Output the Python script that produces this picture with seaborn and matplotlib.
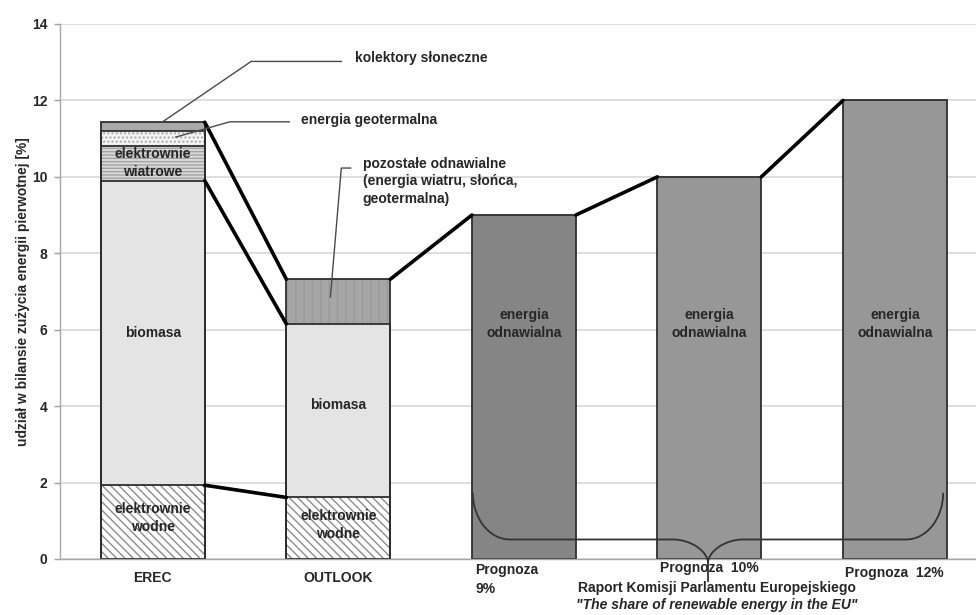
import matplotlib
matplotlib.use("Agg")
import matplotlib.pyplot as plt
import numpy as np
import pandas as pd
import seaborn as sns
from matplotlib.path import Path
from matplotlib.patches import PathPatch

# ---------------------------------------------------------------- data
categories = ["EREC", "OUTLOOK", "Prognoza 9%", "Prognoza 10%", "Prognoza 12%"]

# stacked scenarios (share of primary energy consumption, %)
stack_cats = ["EREC", "OUTLOOK"]
hydro = [1.93, 1.61]          # elektrownie wodne
biomass = [7.97, 4.54]        # biomasa
erec_wind = 0.92              # elektrownie wiatrowe
erec_geothermal = 0.39        # energia geotermalna
erec_solar = 0.22             # kolektory słoneczne
outlook_other = 1.17          # pozostałe odnawialne

# EU parliament report forecasts
forecast_cats = ["Prognoza 9%", "Prognoza 10%", "Prognoza 12%"]
forecast_values = [9.0, 10.0, 12.0]
forecast_colors = ["#858585", "#979797", "#979797"]

y_ticks = [0, 2, 4, 6, 8, 10, 12, 14]
y_label = "udział w bilansie zużycia energii pierwotnej [%]"

# ---------------------------------------------------------------- style
sns.set_theme(style="white")
plt.rcParams["font.family"] = ["Liberation Sans", "DejaVu Sans"]
plt.rcParams["font.weight"] = "bold"
TXT = "#262626"
EDGE = "#2e2e2e"
BAR_W = 0.56

fig = plt.figure(figsize=(9.76, 6.15), dpi=100)
ax = fig.add_axes([0.0615, 0.0911, 0.9385, 0.8699])

# cumulative tops of the stacked segments
erec_hydro_top = hydro[0]
erec_bio_top = hydro[0] + biomass[0]
erec_wind_top = erec_bio_top + erec_wind
erec_geo_top = erec_wind_top + erec_geothermal
erec_total = erec_geo_top + erec_solar
out_hydro_top = hydro[1]
out_bio_top = hydro[1] + biomass[1]
out_total = out_bio_top + outlook_other


def layer(cats, heights, color, edgecolor="none", lw=0.0, hatch=None, fill=True):
    df = pd.DataFrame({"cat": cats, "val": heights})
    kw = dict(data=df, x="cat", y="val", order=categories, width=BAR_W,
              errorbar=None, saturation=1, ax=ax, zorder=2)
    if fill:
        sns.barplot(color=color, edgecolor=edgecolor, linewidth=lw,
                    hatch=hatch, **kw)
    else:
        sns.barplot(color=color, fill=False, linewidth=lw, **kw)


# segments are painted tallest first, each lower one covering the previous
layer(["EREC"], [erec_total], "#a9a9a9")
layer(["EREC"], [erec_geo_top], "#f4f4f4", edgecolor="#a8a8a8", hatch="....")
layer(["EREC"], [erec_wind_top], "#d9d9d9", edgecolor="#a3a3a3", hatch="-----")
layer(["OUTLOOK"], [out_total], "#a6a6a6", edgecolor="#9a9a9a", hatch="||")
layer(stack_cats, [erec_bio_top, out_bio_top], "#e4e4e4")
layer(stack_cats, [erec_hydro_top, out_hydro_top], "#ffffff",
      edgecolor="#8c8c8c", hatch="\\\\\\\\")

# forecast bars
fdf = pd.DataFrame({"cat": forecast_cats, "val": forecast_values})
sns.barplot(data=fdf, x="cat", y="val", hue="cat", order=categories,
            hue_order=forecast_cats, palette=forecast_colors, legend=False,
            width=BAR_W, errorbar=None, saturation=1, edgecolor=EDGE,
            linewidth=1.3, ax=ax, zorder=2)

# outlines of every segment boundary
for cats, tops in [
    (["EREC"] * 5, [erec_hydro_top, erec_bio_top, erec_wind_top, erec_geo_top, erec_total]),
    (["OUTLOOK"] * 3, [out_hydro_top, out_bio_top, out_total]),
]:
    for c, t in zip(cats, tops):
        layer([c], [t], EDGE, lw=1.3, fill=False)

# ---------------------------------------------------------------- connectors
pos = {c: i for i, c in enumerate(categories)}
half = BAR_W / 2


def connect(a, b, ya, yb):
    ax.plot([pos[a] + half, pos[b] - half], [ya, yb], color="black",
            lw=2.6, solid_capstyle="round", zorder=4)


connect("EREC", "OUTLOOK", erec_total, out_total)
connect("EREC", "OUTLOOK", erec_bio_top, out_bio_top)
connect("EREC", "OUTLOOK", erec_hydro_top, out_hydro_top)
seq = ["OUTLOOK"] + forecast_cats
tops = [out_total] + forecast_values
for i in range(len(seq) - 1):
    connect(seq[i], seq[i + 1], tops[i], tops[i + 1])

# ---------------------------------------------------------------- segment labels
lab = dict(ha="center", va="center", fontsize=10, fontweight="bold",
           color=TXT, zorder=5, linespacing=1.35)
ax.text(0, (erec_bio_top + erec_wind_top) / 2, "elektrownie\nwiatrowe", **lab)
ax.text(0, (erec_hydro_top + erec_bio_top) / 2, "biomasa", **lab)
ax.text(0, erec_hydro_top / 2 + 0.1, "elektrownie\nwodne", **lab)
ax.text(1, (out_hydro_top + out_bio_top) / 2 + 0.15, "biomasa", **lab)
ax.text(1, out_hydro_top / 2 + 0.08, "elektrownie\nwodne", **lab)
for c in forecast_cats:
    ax.text(pos[c], 6.15, "energia\nodnawialna", **lab)

# ---------------------------------------------------------------- callouts
lead = dict(color="#4a4a4a", lw=1.0, zorder=5, solid_capstyle="butt")
ann = dict(fontsize=10, fontweight="bold", color=TXT, va="center", zorder=5)

ax.plot([0.05, 0.53, 1.02], [erec_total, 13.02, 13.02], **lead)
ax.text(1.09, 13.1, "kolektory słoneczne", **ann)

ax.plot([0.12, 0.415, 0.74], [(erec_wind_top + erec_geo_top) / 2 + 0.02, 11.44, 11.44], **lead)
ax.text(0.80, 11.48, "energia geotermalna", **ann)

ax.plot([0.957, 1.016, 1.07], [(out_bio_top + out_total) / 2 + 0.1, 10.23, 10.23], **lead)
ax.text(1.132, 10.52, "pozostałe odnawialne\n(energia wiatru, słońca,\ngeotermalna)",
        fontsize=10, fontweight="bold", color=TXT, va="top", ha="left",
        linespacing=1.3, zorder=5)

# ---------------------------------------------------------------- brace
k = 0.5523
xl = pos[forecast_cats[0]] - half + 0.005
xr = pos[forecast_cats[-1]] + half - 0.02
xc = (xl + xr) / 2
ytop, ybar, yknee, ytip = 1.73, 0.51, -0.1, -0.6
rx_end, rx_mid = 0.2, 0.19
ry = ytop - ybar
dk = ybar - yknee
verts = [
    (xl, ytop), (xl, ybar + ry * (1 - k)), (xl + rx_end * (1 - k), ybar), (xl + rx_end, ybar),
    (xc - rx_mid, ybar),
    (xc - rx_mid * (1 - k), ybar), (xc, yknee + dk * (1 - k)), (xc, yknee),
    (xc, ytip),
    (xc, yknee),
    (xc, yknee + dk * (1 - k)), (xc + rx_mid * (1 - k), ybar), (xc + rx_mid, ybar),
    (xr - rx_end, ybar),
    (xr - rx_end * (1 - k), ybar), (xr, ybar + ry * (1 - k)), (xr, ytop),
]
codes = [Path.MOVETO, Path.CURVE4, Path.CURVE4, Path.CURVE4,
         Path.LINETO,
         Path.CURVE4, Path.CURVE4, Path.CURVE4,
         Path.LINETO,
         Path.MOVETO,
         Path.CURVE4, Path.CURVE4, Path.CURVE4,
         Path.LINETO,
         Path.CURVE4, Path.CURVE4, Path.CURVE4]
ax.add_patch(PathPatch(Path(verts, codes), fill=False, edgecolor="#333333",
                       lw=1.3, zorder=6, clip_on=False))

# ---------------------------------------------------------------- axes
ax.set_xlim(-0.5, 4.437)
ax.set_ylim(0, 14)
ax.set_yticks(y_ticks)
ax.set_yticklabels([str(v) for v in y_ticks], fontsize=10, fontweight="bold", color=TXT)
ax.set_xticks([0, 1])
ax.set_xticklabels(["EREC", "OUTLOOK"], fontsize=10, fontweight="bold", color=TXT)
ax.set_xticks(np.arange(-0.5, 4.0, 1.0), minor=True)
ax.tick_params(axis="x", which="major", length=0, pad=9)
ax.tick_params(axis="x", which="minor", length=4, color="#a0a0a0", width=1)
ax.tick_params(axis="y", which="major", length=4, color="#a0a0a0", width=1, pad=5, left=True)
ax.set_xlabel("")
ax.set_ylabel(y_label, fontsize=9.9, fontweight="bold", color=TXT)
ax.yaxis.set_label_coords(-0.033, 0.50)
ax.grid(axis="y", color="#d4d4d4", lw=1.1)
ax.grid(axis="x", visible=False)
ax.set_axisbelow(True)
for s in ["top", "right"]:
    ax.spines[s].set_visible(False)
for s in ["left", "bottom"]:
    ax.spines[s].set_color("#a8a8a8")
    ax.spines[s].set_linewidth(1.0)

# forecast category labels and report caption
cap = dict(fontsize=10, fontweight="bold", color=TXT, ha="left", va="center",
           clip_on=False)
ax.text(pos[forecast_cats[0]] - half + 0.02, -0.29, "Prognoza", **cap)
ax.text(pos[forecast_cats[0]] - half + 0.02, -0.78, "9%", **cap)
ax.text(pos[forecast_cats[1]] - half + 0.012, -0.23, "Prognoza  10%", **cap)
ax.text(pos[forecast_cats[2]] - half + 0.012, -0.37, "Prognoza  12%", **cap)
ax.text(3.04, -0.76, "Raport Komisji Parlamentu Europejskiego", fontsize=10,
        fontweight="bold", color=TXT, ha="center", va="center", clip_on=False)
ax.text(3.04, -1.2, "\"The share of renewable energy in the EU\"", fontsize=10,
        fontweight="bold", fontstyle="italic", color=TXT, ha="center",
        va="center", clip_on=False)

fig.savefig("out.png", dpi=100, facecolor="white")
